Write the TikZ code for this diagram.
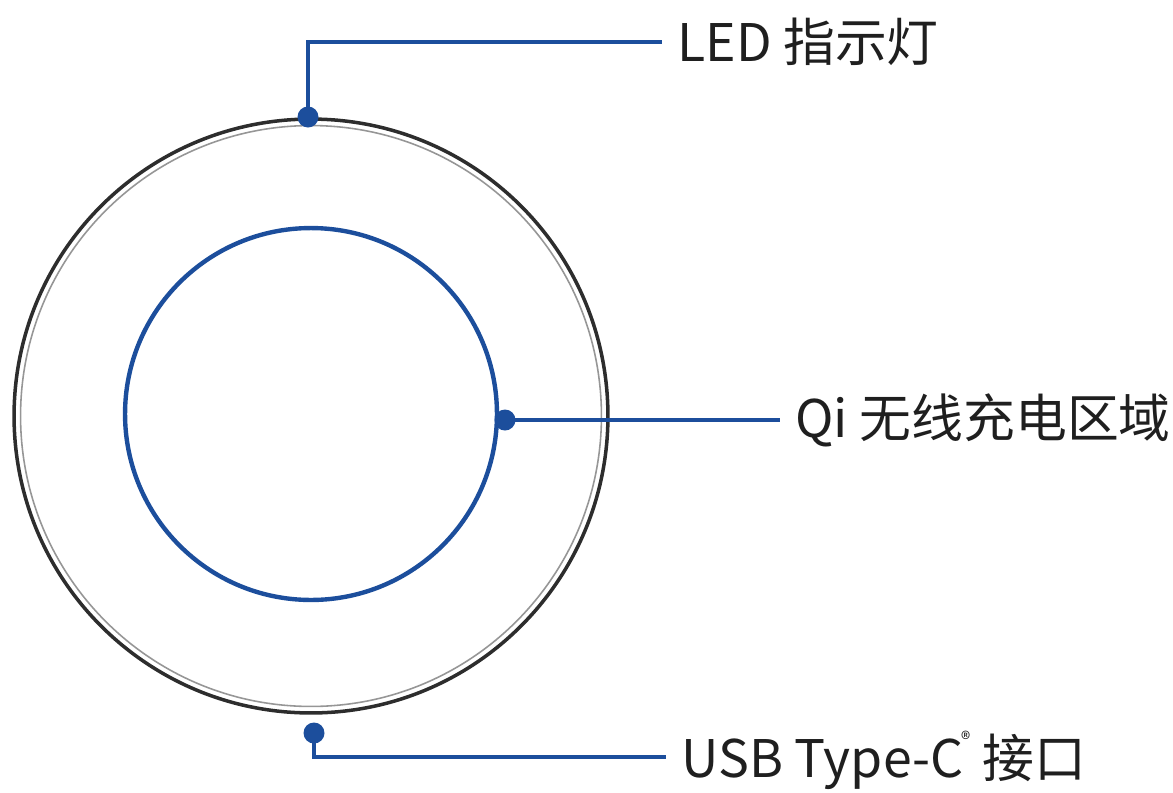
\documentclass[tikz,border=0pt]{standalone}
\usepackage{fontspec}
\setmainfont{Noto Sans CJK SC}
\usepackage{xcolor}
\usetikzlibrary{positioning}
\definecolor{padblue}{RGB}{28,78,156}
\definecolor{rimdark}{RGB}{45,45,45}
\definecolor{rimgrey}{RGB}{150,150,150}
\tikzset{
  rim/.style={circle,draw=rimdark,line width=2pt,minimum size=11.88cm,inner sep=0pt},
  rimline/.style={circle,draw=rimgrey,line width=0.9pt,minimum size=11.62cm,inner sep=0pt},
  coil/.style={circle,draw=padblue,line width=2.5pt,minimum size=7.44cm,inner sep=0pt},
  pin/.style={circle,fill=padblue,inner sep=0pt,minimum size=0.42cm},
  leader/.style={line width=2.6pt,draw=padblue},
  callout/.style={anchor=west,font=\fontsize{29.5}{33}\selectfont,
    inner xsep=0.3cm,inner ysep=0pt,text=black!88}
}

\begin{document}
\begin{tikzpicture}[x=0.02cm,y=-0.02cm]
  \useasboundingbox (0,0) rectangle (1173,792);
  % charging pad
  \node[rim] (pad) at (311,416) {};
  \node[rimline] (padedge) at (311,416) {};
  \node[coil] (coilring) at (311,414) {};
  % marked points
  \node[pin] (ledpin) at (308,117) {};
  \node[pin] (qipin) at (505,420) {};
  \node[pin] (usbpin) at (314,733) {};
  \coordinate (ledbend) at (308,42);
  \coordinate (usbbend) at (314,757);
  % labels
  \node[callout] (ledtext) at (662,42) {LED 指示灯};
  \node[callout] (qitext) at (780,420) {Qi 无线充电区域};
  \node[callout] (usbtext) at (666,760)
    {USB Type-C\kern-1pt\raisebox{1.1ex}{\fontsize{11}{11}\selectfont ®} 接口};
  \draw[leader] (ledpin.center) -- (ledbend) -- (ledtext.west);
  \draw[leader] (qipin.center) -- (qitext.west);
  \draw[leader] (usbpin.center) -- (usbbend) -- (usbtext.west |- usbbend);
\end{tikzpicture}
\end{document}
